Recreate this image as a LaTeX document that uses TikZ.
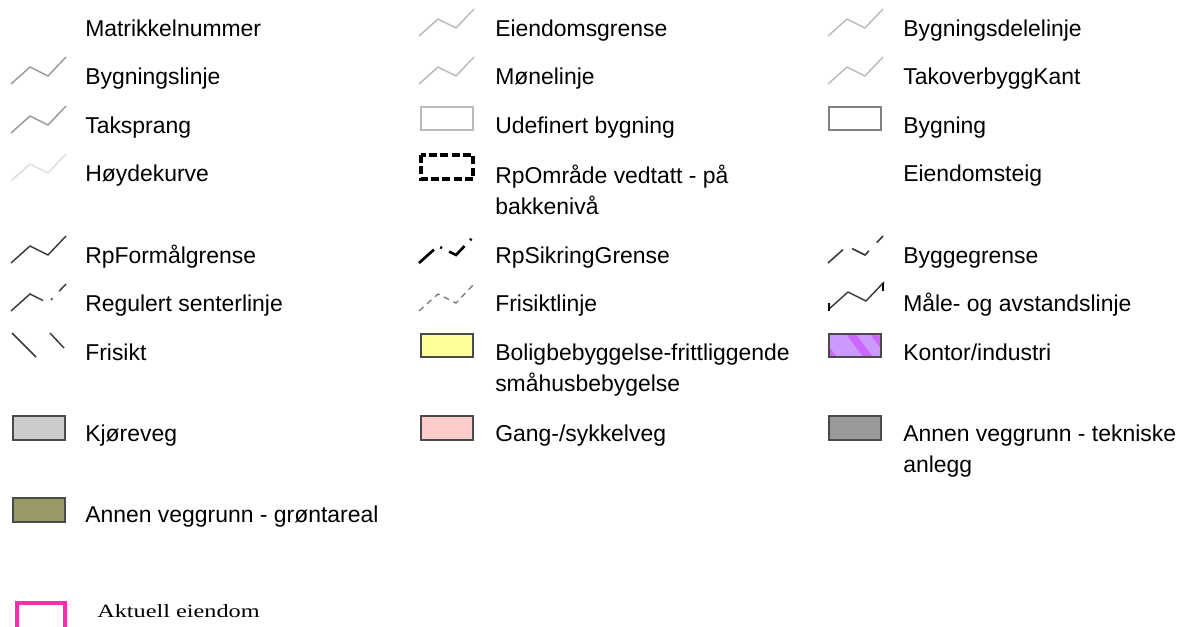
\documentclass[tikz,border=0pt]{standalone}
\usepackage{fontspec}
\usepackage{graphicx}
\setmainfont{Liberation Sans}
\newfontfamily\timesfont{Liberation Serif}

\definecolor{linelight}{HTML}{BBBBBB}
\definecolor{linemid}{HTML}{9A9A9A}
\definecolor{linefaint}{HTML}{DDDDDD}
\definecolor{linedark}{HTML}{3A3A3A}
\definecolor{boxedge}{HTML}{4A4A4A}
\definecolor{buildedge}{HTML}{808080}
\definecolor{housing}{HTML}{FFFF99}
\definecolor{walkway}{HTML}{FFCCCC}
\definecolor{road}{HTML}{CCCCCC}
\definecolor{technical}{HTML}{999999}
\definecolor{greenarea}{HTML}{999966}
\definecolor{officedark}{HTML}{CC66FF}
\definecolor{officelight}{HTML}{CC99FF}
\definecolor{parcel}{HTML}{FF2DAA}

% zigzag legend line starting at (#2,#3), drawn with style #1
\newcommand\zigzag[3]{\draw[#1] (#2,#3) -- ++(19,-17) -- ++(18,9) -- ++(18,-19);}

\tikzset{
  lbl/.style={anchor=base west, inner sep=0pt, align=left,
              font=\fontsize{17.2pt}{23.25pt}\selectfont},
  thinline/.style={line width=1.1pt, line join=round},
  areabox/.style={draw=boxedge, line width=1.1pt},
}

\begin{document}
\begin{tikzpicture}[x=0.75pt,y=-0.75pt]
\useasboundingbox (0,0) rectangle (1183,626);
\begin{scope}
\clip (0,0) rectangle (1183,626);

% ---------- column 1 ----------
\node[lbl] (matr)   at (85,36)  {Matrikkelnummer};
\zigzag{thinline, draw=linemid}{11}{84}
\node[lbl] (bygl)   at (85,84)  {Bygningslinje};
\zigzag{thinline, draw=linemid}{11}{133}
\node[lbl] (taksp)  at (85,133) {Taksprang};
\zigzag{thinline, draw=linefaint}{11}{181}
\node[lbl] (hoyde)  at (85,181) {Høydekurve};
\zigzag{thinline, draw=linedark}{11}{263}
\node[lbl] (formal) at (85,263) {RpFormålgrense};
\zigzag{line width=1.1pt, draw=linedark, dash pattern=on 30pt off 7.5pt on 1.5pt off 7.5pt}{11}{311}
\node[lbl] (senter) at (85,311) {Regulert senterlinje};
\draw[thinline, draw=linedark] (12,333) -- (36,357);
\draw[thinline, draw=linedark] (50,333) -- (64,348);
\node[lbl] (frisikt) at (85,360) {Frisikt};
\draw[areabox, fill=road] (13,416) rectangle (65,440);
\node[lbl] (kjore)  at (85,441) {Kjøreveg};
\draw[areabox, fill=greenarea] (13,498) rectangle (65,522);
\node[lbl] (gront)  at (85,522) {Annen veggrunn - grøntareal};

% ---------- column 2 ----------
\zigzag{thinline, draw=linelight}{419}{36}
\node[lbl] (eiend)  at (495,36)  {Eiendomsgrense};
\zigzag{thinline, draw=linelight}{419}{84}
\node[lbl] (mone)   at (495,84)  {Mønelinje};
\draw[line width=1.1pt, draw=linelight] (421,107) rectangle (473,130);
\node[lbl] (udef)   at (495,133) {Udefinert bygning};
\draw[line width=2.4pt, draw=black, dash pattern=on 6pt off 2.5pt] (421,155) rectangle (473,179);
\node[lbl] (rpomr)  at (495,214) {RpOmråde vedtatt - på\\bakkenivå};
\zigzag{line width=2pt, draw=black, dash pattern=on 15pt off 6pt on 1.5pt off 6pt}{419}{263}
\node[lbl] (sikring) at (495,263) {RpSikringGrense};
\zigzag{line width=1pt, draw=linemid!80!black, dash pattern=on 4.5pt off 3.5pt}{419}{311}
\node[lbl] (frisl)  at (495,311) {Frisiktlinje};
\draw[areabox, fill=housing] (421,334) rectangle (473,357);
\node[lbl] (bolig)  at (495,391) {Boligbebyggelse-frittliggende\\småhusbebygelse};
\draw[areabox, fill=walkway] (421,416) rectangle (473,440);
\node[lbl] (gang)   at (495,441) {Gang-/sykkelveg};

% ---------- column 3 ----------
\zigzag{thinline, draw=linelight}{828}{36}
\node[lbl] (bdel)   at (903,36)  {Bygningsdelelinje};
\zigzag{thinline, draw=linelight}{828}{84}
\node[lbl] (takov)  at (903,84)  {TakoverbyggKant};
\draw[line width=1.4pt, draw=buildedge] (829,107) rectangle (881,130);
\node[lbl] (bygn)   at (903,133) {Bygning};
\node[lbl] (teig)   at (903,181) {Eiendomsteig};
\zigzag{line width=1.2pt, draw=linedark, dash pattern=on 15pt off 8.5pt}{828}{263}
\node[lbl] (bgrense) at (903,263) {Byggegrense};
\zigzag{thinline, draw=linedark}{829}{309}
\draw[line width=1.8pt, draw=black] (829,303) -- (829,311);
\draw[line width=1.8pt, draw=black] (883,283) -- (883,291);
\node[lbl] (maale)  at (903,311) {Måle- og avstandslinje};
\begin{scope}
  \clip (829,334) rectangle (881,357);
  \fill[officedark] (829,334) rectangle (881,357);
  \fill[officelight] (820,334) -- (846,334) -- (863,357) -- (837,357) -- cycle;
  \fill[officelight] (856,334) -- (870,334) -- (887,357) -- (873,357) -- cycle;
  \fill[officelight] (878,334) -- (900,334) -- (917,357) -- (895,357) -- cycle;
\end{scope}
\draw[areabox] (829,334) rectangle (881,357);
\node[lbl] (kontor) at (903,360) {Kontor/industri};
\draw[areabox, fill=technical] (829,416) rectangle (881,440);
\node[lbl] (tekn)   at (903,472) {Annen veggrunn - tekniske\\anlegg};

% ---------- current property ----------
\draw[line width=3.4pt, draw=parcel] (17,603) rectangle (65,640);
\node[anchor=base west, inner sep=0pt] (aktuell) at (97,617)
  {\timesfont\fontsize{14pt}{16pt}\selectfont\scalebox{1.3}[1]{Aktuell eiendom}};
\end{scope}
\end{tikzpicture}
\end{document}
